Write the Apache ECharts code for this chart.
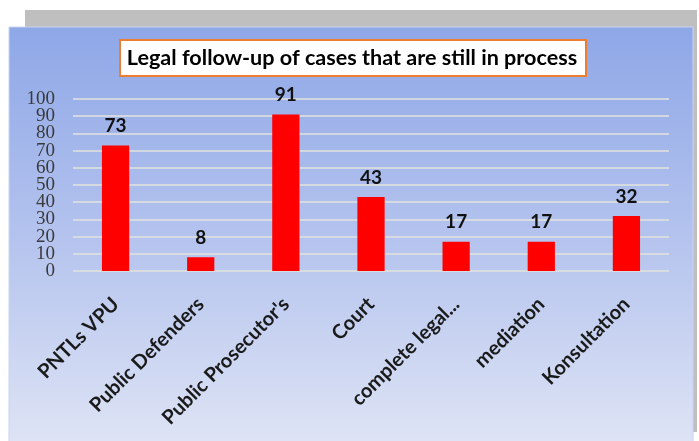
<!DOCTYPE html>
<html>
<head>
<meta charset="utf-8">
<script src="https://cdn.jsdelivr.net/npm/echarts@6/dist/echarts.min.js"></script>
<style>html,body{margin:0;padding:0;background:#fff;}#c{width:699px;height:441px;}</style>
</head>
<body>
<div id="c"></div>
<script>
const categories = ["PNTLs VPU", "Public Defenders", "Public Prosecutor's", "Court", "complete legal...", "mediation", "Konsultation"];
const values = [73, 8, 91, 43, 17, 17, 32];
const yTicks = [0, 10, 20, 30, 40, 50, 60, 70, 80, 90, 100];
const titleText = "Legal follow-up of cases that are still in process";

const chart = echarts.init(document.getElementById('c'), null, {renderer: 'canvas'});
chart.setOption({
  backgroundColor: '#ffffff',
  animation: false,
  graphic: [
    {type: 'rect', z: -10, shape: {x: 25, y: 10, width: 672, height: 422}, style: {fill: '#BFBFBF'}},
    {type: 'rect', z: -9, shape: {x: 9, y: 27, width: 684, height: 416},
      style: {
        fill: new echarts.graphic.LinearGradient(0, 0, 0, 1, [
          {offset: 0, color: '#8EA7E7'},
          {offset: 0.5, color: '#B4C3EE'},
          {offset: 1, color: '#DEE4F5'}
        ]),
        stroke: '#C9D3F0', lineWidth: 1
      }},
    {type: 'rect', z: 10, shape: {x: 120, y: 40, width: 466, height: 36},
      style: {fill: '#ffffff', stroke: '#ED7D31', lineWidth: 2}},
    {type: 'text', z: 11, x: 352, y: 58,
      style: {text: titleText, fill: '#000000', font: 'bold 21.6px Lato', align: 'center', verticalAlign: 'middle'}}
  ],
  grid: {left: 73, right: 30, top: 99, bottom: 170, containLabel: false},
  xAxis: {
    type: 'category',
    data: categories,
    axisLine: {show: false},
    axisTick: {show: false},
    axisLabel: {rotate: 45, interval: 0, margin: 30, color: '#1a1a1a', fontFamily: 'Lato', fontWeight: 'bold', fontSize: 20}
  },
  yAxis: [
    {
      type: 'value',
      min: yTicks[0],
      max: yTicks[yTicks.length - 1],
      interval: 10,
      axisLine: {show: false},
      axisTick: {show: false},
      axisLabel: {show: false},
      splitLine: {lineStyle: {color: '#E3E3DC', width: 1.5}}
    },
    {
      type: 'category',
      position: 'left',
      data: yTicks.map(String),
      boundaryGap: false,
      axisLine: {show: false},
      axisTick: {show: false},
      splitLine: {show: false},
      axisLabel: {interval: 0, margin: 18, color: '#3a3a3a', fontFamily: 'Liberation Serif', fontSize: 19}
    }
  ],
  series: [{
    type: 'bar',
    yAxisIndex: 0,
    data: values,
    barWidth: '32%',
    itemStyle: {color: '#FF0000'},
    label: {show: true, position: 'top', distance: 10, color: '#111111', fontFamily: 'Lato', fontWeight: 'bold', fontSize: 19}
  }]
});
</script>
</body>
</html>
